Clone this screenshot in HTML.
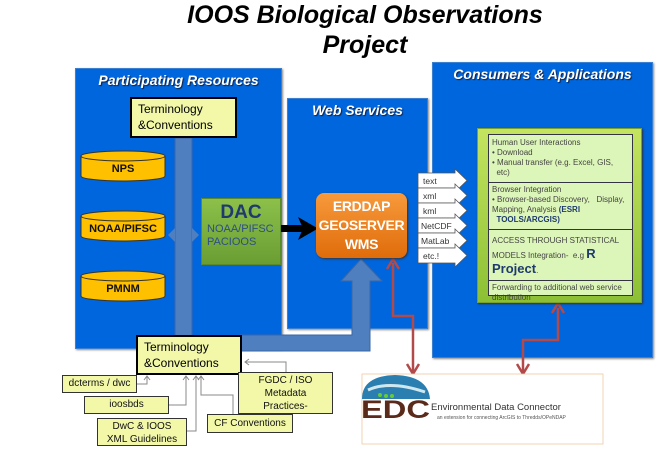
<!DOCTYPE html>
<html><head><meta charset="utf-8"><style>
body{margin:0;width:660px;height:451px;background:#fff;position:relative;overflow:hidden;font-family:"Liberation Sans",sans-serif}
.a{position:absolute;box-sizing:border-box}
.panel{background:#0066dd;border:1px solid #3a7fd0;box-shadow:1px 1px 2px #888}
.ph{color:#fff;font-weight:bold;font-style:italic;font-size:14px;text-align:center;text-shadow:1px 1px 1px #124}
.term{background:#f2f8a8;border:2px solid #000;font-size:12px;line-height:16px;padding:2px 6px}
.yb{background:#f2f8a8;border:1px solid #333;font-size:10px;text-align:center;color:#111}
</style></head><body>
<div class="a" style="left:100px;top:0;width:530px;text-align:center;font-size:25px;font-weight:bold;font-style:italic;line-height:30px">IOOS Biological Observations<br>Project</div>

<div class="a panel" style="left:75px;top:68px;width:207px;height:281px"></div>
<div class="a ph" style="left:75px;top:72px;width:207px">Participating Resources</div>
<div class="a panel" style="left:287px;top:98px;width:141px;height:231px"></div>
<div class="a ph" style="left:287px;top:102px;width:141px">Web Services</div>
<div class="a panel" style="left:432px;top:62px;width:221px;height:296px"></div>
<div class="a ph" style="left:432px;top:66px;width:221px">Consumers &amp; Applications</div>

<svg class="a" style="left:0;top:0" width="660" height="451">
<rect x="175" y="138" width="17" height="200" fill="#4f7fbf" stroke="#3b67a6"/>
<polygon points="168,235 175,228 175,242" fill="#4f7fbf"/>
<polygon points="199,235 192,228 192,242" fill="#4f7fbf"/>
<path d="M240,335 H352 V281 H341 L361,259 L382,281 H370 V351 H240 Z" fill="#4f7fbf" stroke="#3b67a6"/>
<rect x="281" y="225" width="22" height="7" fill="#000"/>
<polygon points="298,217 318,228.5 298,240 303,228.5" fill="#000"/>
<polyline points="393,263 393,316 413,316 413,372" fill="none" stroke="#b34a4a" stroke-width="2.5"/>
<polyline points="387,269 393,259 399,269" fill="none" stroke="#b34a4a" stroke-width="2.5"/>
<polyline points="407,364 413,374 419,364" fill="none" stroke="#b34a4a" stroke-width="2.5"/>
<polyline points="558,308 558,340 523,340 523,372" fill="none" stroke="#b34a4a" stroke-width="2.5"/>
<polyline points="552,313 558,303 564,313" fill="none" stroke="#b34a4a" stroke-width="2.5"/>
<polyline points="517,364 523,374 529,364" fill="none" stroke="#b34a4a" stroke-width="2.5"/>
<g fill="#ffc000" stroke="#333">
<path d="M81,156 V176 A42,5 0 0 0 165,176 V156"/><ellipse cx="123" cy="156" rx="42" ry="5"/>
<path d="M81,216 V236 A42,5 0 0 0 165,236 V216"/><ellipse cx="123" cy="216" rx="42" ry="5"/>
<path d="M81,276 V296 A42,5 0 0 0 165,296 V276"/><ellipse cx="123" cy="276" rx="42" ry="5"/>
</g>
<g font-family="Liberation Sans" font-weight="bold" font-size="11" text-anchor="middle" fill="#111">
<text x="123" y="172">NPS</text><text x="123" y="232">NOAA/PIFSC</text><text x="123" y="292">PMNM</text></g>
<g fill="#fff" stroke="#555" stroke-width="0.8">
<path d="M418,173 H455 V169 L467,180.5 L455,192 V188 H418Z"/>
<path d="M418,188 H455 V184 L467,195.5 L455,207 V203 H418Z"/>
<path d="M418,203 H455 V199 L467,210.5 L455,222 V218 H418Z"/>
<path d="M418,218 H455 V214 L467,225.5 L455,237 V233 H418Z"/>
<path d="M418,233 H455 V229 L467,240.5 L455,252 V248 H418Z"/>
<path d="M418,248 H455 V244 L467,255.5 L455,267 V263 H418Z"/>
</g>
<g font-family="Liberation Sans" font-size="8.5" fill="#333">
<text x="423" y="184">text</text><text x="423" y="199">xml</text><text x="423" y="214">kml</text>
<text x="421" y="229">NetCDF</text><text x="421" y="244">MatLab</text><text x="423" y="259">etc.!</text></g>
<g fill="none" stroke="#888" stroke-width="1">
<polyline points="137,384 147,384 147,376"/><polyline points="169,405 186,405 186,376"/>
<polyline points="187,431 196,431 196,376"/><polyline points="233,414 233,395 201,395 201,376"/>
<polyline points="286,372 286,362 245,362"/>
<polyline points="144,380 147,376 150,380"/><polyline points="183,380 186,376 189,380"/>
<polyline points="193,380 196,376 199,380"/><polyline points="198,380 201,376 204,380"/>
<polyline points="249,359 245,362 249,365"/>
</g>
<rect x="362" y="374" width="241" height="70" fill="#fff" stroke="#f0c8a0" stroke-width="0.8"/>
<path d="M362,399 Q362,376 395,375 Q428,376 430,399 Z" fill="#2a7fb0"/>
<path d="M368,390 Q390,380 425,392" stroke="#cfe8f0" stroke-width="3" fill="none"/>
<circle cx="380" cy="395" r="2" fill="#6c3"/><circle cx="386" cy="396" r="2" fill="#6c3"/><circle cx="392" cy="396" r="2" fill="#6c3"/>
<text x="361" y="418" font-family="Liberation Sans" font-weight="bold" font-size="25" fill="#5a2a1a" textLength="69" lengthAdjust="spacingAndGlyphs">EDC</text>
<text x="431" y="410" font-family="Liberation Sans" font-size="9.5" fill="#333">Environmental Data Connector</text>
<text x="437" y="419" font-family="Liberation Sans" font-size="5" fill="#555">an extension for connecting ArcGIS to Thredds/OPeNDAP</text>
</svg>

<div class="a term" style="left:130px;top:97px;width:107px;height:41px">Terminology<br>&amp;Conventions</div>
<div class="a term" style="left:136px;top:335px;width:106px;height:40px">Terminology<br>&amp;Conventions</div>

<div class="a" style="left:201px;top:198px;width:80px;height:67px;background:linear-gradient(#8cc04a,#6a9e34);border:1px solid #5a8a2a;padding:4px 0 0 5px;font-size:11px;line-height:13px"><div style="font-size:19px;font-weight:bold;text-align:center;line-height:20px;margin-left:-5px;color:#1f3b6e">DAC</div><span style="color:#2d4f86">NOAA/PIFSC<br>PACIOOS</span></div>

<div class="a" style="left:316px;top:193px;width:91px;height:65px;background:linear-gradient(#f79a3c,#e06c0a);border-radius:8px;color:#fff;font-weight:bold;font-size:14px;line-height:19px;text-align:center;padding-top:4px;box-shadow:1px 1px 2px #333;letter-spacing:-0.3px">ERDDAP<br>GEOSERVER<br>WMS</div>

<div class="a" style="left:477px;top:128px;width:165px;height:175px;background:linear-gradient(#c4e460,#8cc034);border:1px solid #7aa030;box-shadow:1px 1px 2px #333"></div>
<div class="a" style="left:488px;top:134px;width:145px;height:162px;background:#dcf5b8;border:1px solid #334;font-size:8px;color:#444;line-height:10px">
<div style="height:44px;border-bottom:1px solid #334;padding:3px 3px 0">Human User Interactions<br>• Download<br>• Manual transfer (e.g. Excel, GIS, &nbsp;&nbsp;etc)</div>
<div style="height:44px;border-bottom:1px solid #334;padding:2px 3px 0">Browser Integration<br>• Browser-based Discovery, &nbsp;&nbsp;Display, Mapping, Analysis <b style="color:#1f3b6e">(ESRI &nbsp;&nbsp;TOOLS/ARCGIS)</b></div>
<div style="height:46px;border-bottom:1px solid #334;padding:4px 3px 0;line-height:13px">ACCESS THROUGH STATISTICAL<br>MODELS Integration- &nbsp;e.g <b style="font-size:13px;color:#1f3b6e">R</b><br><b style="font-size:13px;color:#1f3b6e">Project</b>.</div>
<div style="padding:2px 3px 0">Forwarding to additional web service distribution</div>
</div>

<div class="a yb" style="left:62px;top:375px;width:75px;height:18px;line-height:16px">dcterms / dwc</div>
<div class="a yb" style="left:84px;top:396px;width:85px;height:18px;line-height:16px">ioosbds</div>
<div class="a yb" style="left:97px;top:418px;width:90px;height:28px;line-height:13px;padding-top:1px">DwC &amp; IOOS<br>XML Guidelines</div>
<div class="a yb" style="left:207px;top:414px;width:86px;height:19px;line-height:17px">CF Conventions</div>
<div class="a yb" style="left:238px;top:372px;width:95px;height:42px;line-height:13px;padding-top:1px">FGDC / ISO<br>Metadata<br>Practices-</div>
</body></html>
